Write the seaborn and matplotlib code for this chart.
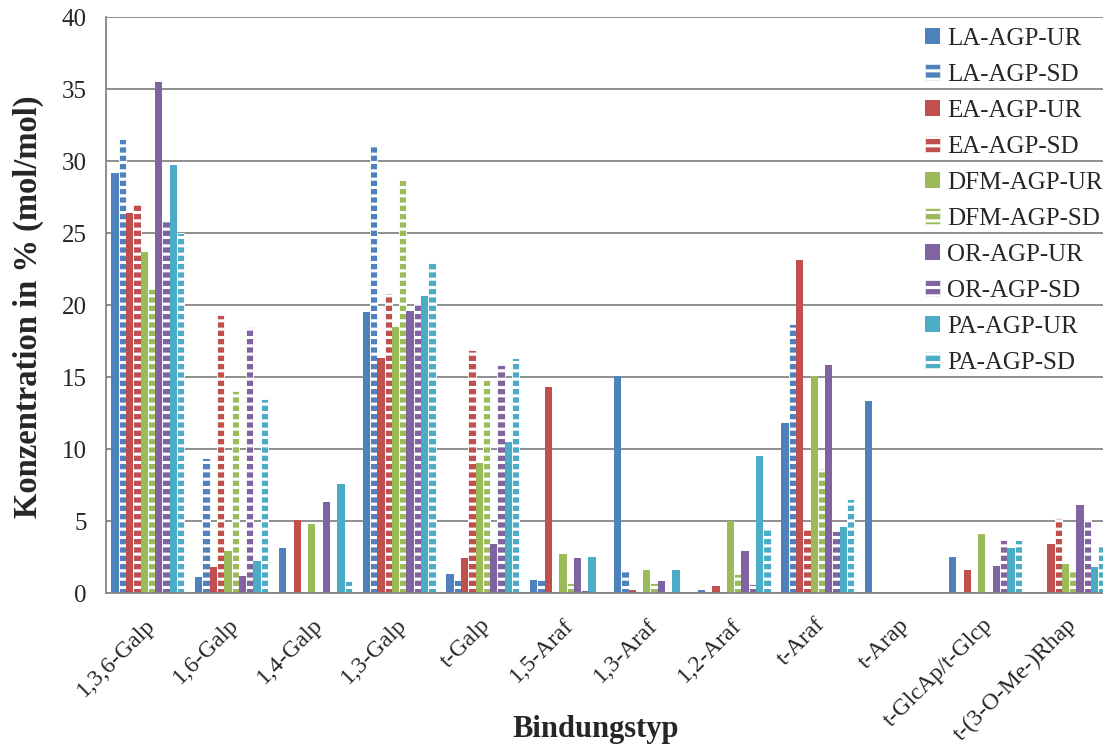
import pandas as pd
import matplotlib
matplotlib.use('Agg')
import matplotlib.pyplot as plt
from matplotlib.patches import Patch
from matplotlib.transforms import ScaledTranslation
import seaborn as sns

# Bindungstypen (x-axis categories)
bindungen = ['1,3,6-Galp', '1,6-Galp', '1,4-Galp', '1,3-Galp', 't-Galp', '1,5-Araf',
             '1,3-Araf', '1,2-Araf', 't-Araf', 't-Arap', 't-GlcAp/t-Glcp', 't-(3-O-Me-)Rhap']

serien = ['LA-AGP-UR', 'LA-AGP-SD', 'EA-AGP-UR', 'EA-AGP-SD', 'DFM-AGP-UR',
          'DFM-AGP-SD', 'OR-AGP-UR', 'OR-AGP-SD', 'PA-AGP-UR', 'PA-AGP-SD']

# values in % (mol/mol)
la_ur = [29.2, 1.1, 3.1, 19.5, 1.3, 0.9, 15.1, 0.2, 11.8, 13.3, 2.5, 0.0]
la_sd = [31.5, 9.4, 0.0, 31.1, 0.9, 0.9, 1.6, 0.0, 18.7, 0.0, 0.0, 0.0]
ea_ur = [26.4, 1.8, 5.1, 16.3, 2.4, 14.3, 0.2, 0.5, 23.1, 0.0, 1.6, 3.4]
ea_sd = [27.1, 19.3, 0.0, 20.8, 16.9, 0.0, 0.0, 0.0, 4.5, 0.0, 0.0, 5.2]
dfm_ur = [23.7, 2.9, 4.8, 18.5, 9.0, 2.7, 1.6, 5.0, 15.1, 0.0, 4.1, 2.0]
dfm_sd = [21.1, 14.0, 0.0, 28.7, 14.8, 0.7, 0.7, 1.3, 8.7, 0.0, 0.0, 1.6]
or_ur = [35.5, 1.2, 6.3, 19.6, 3.4, 2.4, 0.8, 2.9, 15.8, 0.0, 1.9, 6.1]
or_sd = [25.8, 18.5, 0.0, 20.1, 15.8, 0.2, 0.0, 0.6, 4.3, 0.0, 3.7, 5.1]
pa_ur = [29.7, 2.2, 7.6, 20.6, 10.5, 2.5, 1.6, 9.5, 4.6, 0.0, 3.1, 1.8]
pa_sd = [25.0, 13.5, 0.8, 23.0, 16.3, 0.0, 0.0, 4.5, 6.5, 0.0, 3.7, 3.4]

werte = [la_ur, la_sd, ea_ur, ea_sd, dfm_ur, dfm_sd, or_ur, or_sd, pa_ur, pa_sd]

rows = []
for s, vals in zip(serien, werte):
    for b, v in zip(bindungen, vals):
        rows.append({'Bindungstyp': b, 'Serie': s, 'Wert': v})
df = pd.DataFrame(rows)

# Excel-like colours, UR and SD share one colour per plant
farben = ['#4F81BD', '#4F81BD', '#C0504D', '#C0504D', '#9BBB59', '#9BBB59',
          '#8064A2', '#8064A2', '#4BACC6', '#4BACC6']

sns.set_style('white')
plt.rcParams['font.family'] = ['Liberation Serif', 'DejaVu Serif']
plt.rcParams['hatch.linewidth'] = 2.2

fig, ax = plt.subplots(figsize=(11.03, 7.51), dpi=100)
fig.subplots_adjust(left=106 / 1103, right=1111 / 1103, top=1 - 17 / 751, bottom=1 - 593 / 751)

sns.barplot(data=df, x='Bindungstyp', y='Wert', hue='Serie', hue_order=serien,
            order=bindungen, palette=farben, width=0.87, gap=0, saturation=1,
            errorbar=None, legend=False, ax=ax)

# SD bars get white horizontal stripes
for cont, s in zip(ax.containers, serien):
    for bar in cont:
        bar.set_linewidth(0)
        if s.endswith('SD'):
            bar.set_hatch('--')
            bar.set_edgecolor('white')
            bar.set_linewidth(0.6)

ax.set_ylim(0, 40)
ax.set_xlim(-0.5, len(bindungen) - 0.5)
ax.set_yticks(range(0, 41, 5))
ax.yaxis.grid(True, color='#868686', linewidth=1.3)
ax.set_axisbelow(True)
for side in ['top', 'right']:
    ax.spines[side].set_visible(False)
for side in ['left', 'bottom']:
    ax.spines[side].set_color('#868686')
    ax.spines[side].set_linewidth(1.3)

ax.set_xticks([i + 0.5 for i in range(-1, len(bindungen))], minor=True)
ax.tick_params(axis='x', which='minor', length=6, width=1.3, color='#868686', direction='out')
ax.tick_params(axis='x', which='major', length=0, pad=20)
ax.tick_params(axis='y', length=6, width=1.3, color='#868686', direction='out', labelsize=18, pad=8)
ax.set_xticks(range(len(bindungen)))
ax.set_xticklabels(bindungen, rotation=45, ha='right', va='center', rotation_mode='anchor', fontsize=17)
verschiebung = ScaledTranslation(4 / 100, -1 / 100, fig.dpi_scale_trans)
for lab in ax.get_xticklabels():
    lab.set_transform(lab.get_transform() + verschiebung)

ax.set_xlabel('')
ax.set_ylabel('')
fig.text(596 / 1103, 1 - 730 / 751, 'Bindungstyp', fontsize=22, fontweight='bold',
         ha='center', va='center')
fig.text(28 / 1103, 1 - 307 / 751, 'Konzentration in % (mol/mol)', fontsize=23.5,
         fontweight='bold', rotation=90, ha='center', va='center')

handles = []
for s, c in zip(serien, farben):
    if s.endswith('SD'):
        handles.append(Patch(facecolor=c, edgecolor='white', hatch='--', linewidth=0.4))
    else:
        handles.append(Patch(facecolor=c, edgecolor=c, linewidth=0))
fig.legend(handles, serien, loc='upper left', bbox_to_anchor=(915 / 1103, 1 - 18 / 751),
           frameon=False, fontsize=18, handlelength=0.6, handleheight=0.6,
           handletextpad=0.3, labelspacing=0.56, borderaxespad=0)

plt.savefig('out.png', dpi=100)
